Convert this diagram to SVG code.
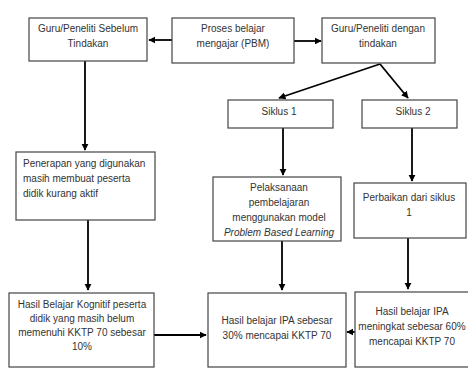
<svg xmlns="http://www.w3.org/2000/svg" width="468" height="368" viewBox="0 0 468 368">
<defs>
<style>
.box{fill:#fff;stroke:#444;stroke-width:1.2}
.t{font-family:"Liberation Sans",Arial,sans-serif;font-size:10px;fill:#333;text-anchor:middle}
.l{text-anchor:start}
.i{font-style:italic}
.c{fill:none;stroke:#000;stroke-width:1.8}
</style>
<marker id="ah" viewBox="0 0 10 10" refX="9" refY="5" markerWidth="4" markerHeight="4" orient="auto" markerUnits="strokeWidth">
<path d="M0,0 L10,5 L0,10 z" fill="#000"/>
</marker>
</defs>
<rect width="468" height="368" fill="#fff"/>
<g id="connectors">
<line class="c" x1="172" y1="40" x2="149" y2="40" marker-end="url(#ah)"/>
<line class="c" x1="294" y1="41" x2="321" y2="41" marker-end="url(#ah)"/>
<line class="c" x1="380" y1="64" x2="279" y2="98" marker-end="url(#ah)"/>
<line class="c" x1="380" y1="64" x2="408" y2="98" marker-end="url(#ah)"/>
<line class="c" x1="85" y1="61" x2="85" y2="150" marker-end="url(#ah)"/>
<line class="c" x1="88" y1="220" x2="88" y2="290" marker-end="url(#ah)"/>
<line class="c" x1="283" y1="128" x2="283" y2="175" marker-end="url(#ah)"/>
<line class="c" x1="412" y1="128" x2="412" y2="181" marker-end="url(#ah)"/>
<line class="c" x1="282" y1="241" x2="282" y2="290" marker-end="url(#ah)"/>
<line class="c" x1="408" y1="238" x2="408" y2="289" marker-end="url(#ah)"/>
<line class="c" x1="154" y1="335" x2="206" y2="335" marker-end="url(#ah)"/>
<line class="c" x1="355" y1="332" x2="347" y2="332" marker-end="url(#ah)"/>
</g>
<g id="sebelum">
<rect class="box" x="29" y="18" width="118" height="43"/>
<text class="t" x="88" y="32">Guru/Peneliti Sebelum</text>
<text class="t" x="88" y="47">Tindakan</text>
</g>
<g id="pbm">
<rect class="box" x="172" y="18" width="122" height="45"/>
<text class="t" x="233" y="32">Proses belajar</text>
<text class="t" x="233" y="47">mengajar (PBM)</text>
</g>
<g id="dengan">
<rect class="box" x="322" y="18" width="113" height="45"/>
<text class="t" x="378" y="32">Guru/Peneliti dengan</text>
<text class="t" x="378" y="47">tindakan</text>
</g>
<g id="siklus1">
<rect class="box" x="228" y="100" width="105" height="28"/>
<text class="t" x="279" y="115">Siklus 1</text>
</g>
<g id="siklus2">
<rect class="box" x="362" y="100" width="95" height="28"/>
<text class="t" x="413" y="115">Siklus 2</text>
</g>
<g id="penerapan">
<rect class="box" x="16" y="152" width="139" height="68"/>
<text class="t l" x="23" y="167">Penerapan yang digunakan</text>
<text class="t l" x="23" y="182">masih membuat peserta</text>
<text class="t l" x="23" y="197">didik kurang aktif</text>
</g>
<g id="pelaksanaan">
<rect class="box" x="213" y="177" width="128" height="64"/>
<text class="t" x="279" y="191">Pelaksanaan</text>
<text class="t" x="279" y="206">pembelajaran</text>
<text class="t" x="279" y="221">menggunakan model</text>
<text class="t i" x="279" y="236">Problem Based Learning</text>
</g>
<g id="perbaikan">
<rect class="box" x="354" y="183" width="112" height="55"/>
<text class="t" x="409" y="201">Perbaikan dari siklus</text>
<text class="t" x="409" y="216">1</text>
</g>
<g id="kognitif">
<rect class="box" x="9" y="293" width="145" height="74"/>
<text class="t" x="82" y="308">Hasil Belajar Kognitif peserta</text>
<text class="t" x="82" y="322">didik yang masih belum</text>
<text class="t" x="82" y="336">memenuhi KKTP 70 sebesar</text>
<text class="t" x="82" y="350">10%</text>
</g>
<g id="hasil30">
<rect class="box" x="208" y="293" width="138" height="74"/>
<text class="t" x="277" y="324">Hasil belajar IPA sebesar</text>
<text class="t" x="277" y="339">30% mencapai KKTP 70</text>
</g>
<g id="hasil60">
<rect class="box" x="355" y="292" width="120" height="75"/>
<text class="t" x="412" y="315">Hasil belajar IPA</text>
<text class="t" x="412" y="330">meningkat sebesar 60%</text>
<text class="t" x="412" y="345">mencapai KKTP 70</text>
</g>
</svg>
